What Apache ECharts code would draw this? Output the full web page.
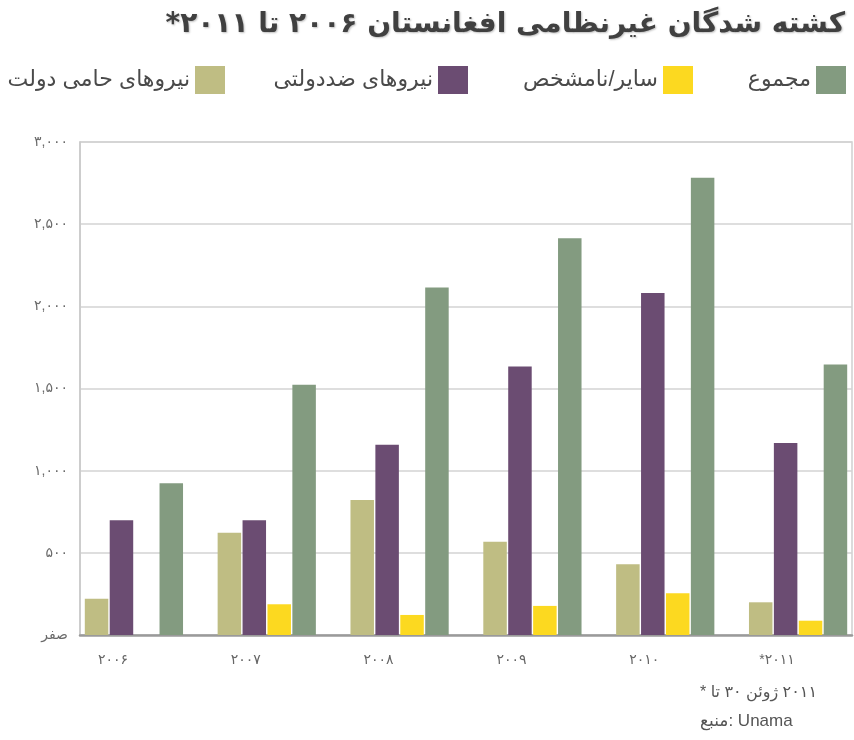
<!DOCTYPE html>
<html>
<head>
<meta charset="utf-8">
<script src="https://cdn.jsdelivr.net/npm/echarts@6/dist/echarts.min.js"></script>
<style>
  html, body { margin: 0; padding: 0; background: #fff; }
  #chart { width: 854px; height: 740px; }
</style>
</head>
<body>
<div id="chart"></div>
<script>
// سال‌ها و مقادیر (خوانده شده از نمودار)
var years = ['۲۰۰۶', '۲۰۰۷', '۲۰۰۸', '۲۰۰۹', '۲۰۱۰', '*۲۰۱۱'];
var proGov = [221, 622, 821, 567, 431, 199];
var antiGov = [699, 699, 1157, 1634, 2081, 1169];
var other = [0, 187, 122, 177, 254, 87];
var total = [923, 1523, 2114, 2415, 2782, 1646];

var yTicks = [0, 500, 1000, 1500, 2000, 2500, 3000];
var yTickLabels = ['صفر', '۵۰۰', '۱,۰۰۰', '۱,۵۰۰', '۲,۰۰۰', '۲,۵۰۰', '۳,۰۰۰'];

var names = ['نیروهای حامی دولت', 'نیروهای ضددولتی', 'سایر/نامشخص', 'مجموع'];
var colors = ['#bfbd83', '#6b4c72', '#fcd920', '#839b80'];

var font = '"Liberation Sans", "DejaVu Sans", sans-serif';
var myChart = echarts.init(document.getElementById('chart'));

// هر کلمه جدا کشیده می‌شود تا ترتیب چپ به راست بماند
function words(list) {
  return list.map(function (w) { return '{w|' + w + '}'; }).join(' ');
}

function legendFor(i, right) {
  return {
    data: [names[i]],
    right: right,
    top: 61,
    itemWidth: 30,
    itemHeight: 28,
    align: 'right',
    icon: 'rect',
    selectedMode: false,
    textStyle: { fontSize: 22, color: '#4a4a4a', fontFamily: font }
  };
}

function bar(i, data) {
  return {
    name: names[i],
    type: 'bar',
    xAxisIndex: 1,
    yAxisIndex: 1,
    barWidth: 23.5,
    barGap: '6%',
    itemStyle: { color: colors[i] },
    data: data
  };
}

var option = {
  animation: false,
  color: colors,
  title: {
    text: '\u202Bکشته شدگان غیرنظامی افغانستان ۲۰۰۶ تا ۲۰۱۱*\u202C',
    right: 4,
    top: 6,
    textStyle: {
      fontSize: 28,
      fontWeight: 'bold',
      color: '#404040',
      fontFamily: '"DejaVu Sans", sans-serif',
      textShadowColor: 'rgba(0,0,0,0.25)',
      textShadowBlur: 2,
      textShadowOffsetX: 1,
      textShadowOffsetY: 1
    }
  },
  legend: [
    legendFor(3, 3),
    legendFor(2, 156),
    legendFor(1, 381),
    legendFor(0, 624)
  ],
  grid: [
    // قاب و خطوط راهنما
    { left: 80, right: 2, top: 142, bottom: 105, show: true, borderColor: '#cfcfcf', borderWidth: 1.5, outerBoundsMode: 'none' },
    // ستون‌ها
    { left: 67.5, width: 797, top: 142, bottom: 105, outerBoundsMode: 'none' }
  ],
  xAxis: [
    {
      gridIndex: 0, type: 'value', min: 0, max: 1,
      axisLine: { show: true, lineStyle: { color: '#9a9a9a', width: 2.5 } },
      axisTick: { show: false }, axisLabel: { show: false }, splitLine: { show: false }
    },
    {
      gridIndex: 1, type: 'category', data: years,
      axisLine: { show: false }, axisTick: { show: false },
      axisLabel: {
        color: '#666', fontSize: 14, margin: 18, padding: [0, 42, 0, 0], fontFamily: font,
        formatter: function (v) {
          return v.charAt(0) === '*' ? '{w|*}{w|' + v.slice(1) + '}' : v;
        },
        rich: { w: { color: '#666', fontSize: 14, fontFamily: font } }
      }
    }
  ],
  yAxis: [
    {
      gridIndex: 0, type: 'value', min: 0, max: 3000, interval: 500,
      axisLine: { show: true, lineStyle: { color: '#c8c8c8', width: 1.5 } },
      axisTick: { show: false },
      splitLine: { lineStyle: { color: '#d3d3d3', width: 1.5 } },
      axisLabel: {
        color: '#6a6a6a', fontSize: 14, margin: 12, fontFamily: font,
        formatter: function (v) { return yTickLabels[yTicks.indexOf(v)]; }
      }
    },
    { gridIndex: 1, type: 'value', min: 0, max: 3000, show: false }
  ],
  graphic: [
    {
      type: 'text', left: 700, top: 685,
      style: {
        text: words(['*', 'تا', '۳۰', 'ژوئن', '۲۰۱۱']),
        fill: '#555', font: '16px ' + font,
        rich: { w: { fill: '#555', font: '16px ' + font } }
      }
    },
    {
      type: 'text', left: 700, top: 713,
      style: {
        text: '{w|منبع}{w|:} {w|Unama}',
        fill: '#555', font: '17px ' + font,
        rich: { w: { fill: '#555', font: '17px ' + font } }
      }
    }
  ],
  series: [
    bar(0, proGov),
    bar(1, antiGov),
    bar(2, other),
    bar(3, total)
  ]
};

myChart.setOption(option);
</script>
</body>
</html>
